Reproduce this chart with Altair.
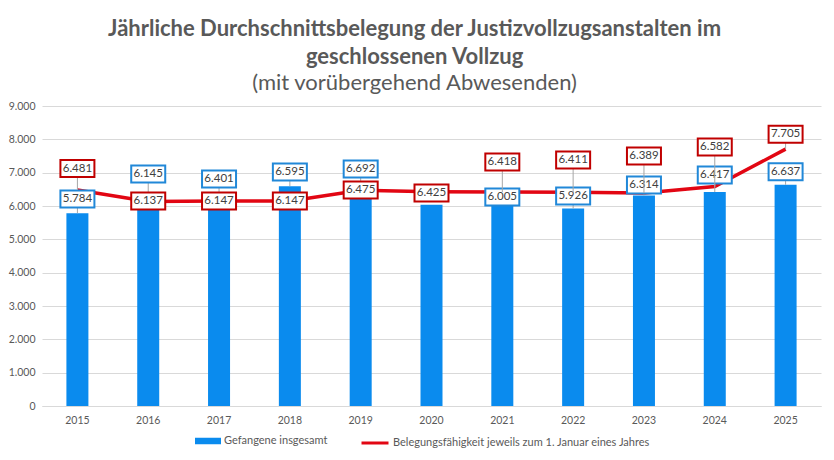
import altair as alt
import pandas as pd

# ---- data ----
years = ["2015", "2016", "2017", "2018", "2019", "2020", "2021", "2022", "2023", "2024", "2025"]
gefangene = [5784, 6145, 6401, 6595, 6692, 6040, 6005, 5926, 6314, 6417, 6637]
kapazitaet = [6481, 6137, 6147, 6147, 6475, 6425, 6418, 6411, 6389, 6582, 7705]
bar_label_shown = [True, True, True, True, True, False, True, True, True, True, True]

# label box placement (layout only, in axis units)
blue_label_at = [6210, 6960, 6810, 7020, 7110, 6040, 6270, 6300, 6630, 6930, 7030]
red_label_at = [7125, 6150, 6150, 6150, 6480, 6390, 7320, 7380, 7500, 7770, 8150]
y_ticks = [0, 1000, 2000, 3000, 4000, 5000, 6000, 7000, 8000, 9000]

S_BAR = "Gefangene insgesamt"
S_LINE = "Belegungsfähigkeit jeweils zum 1. Januar eines Jahres"

BLUE = "#0A8BEE"
RED = "#E20613"
BOX_BLUE = "#2188D8"
BOX_RED = "#C00000"
GRAY = "#595959"
FONT = "Lato"

df = pd.DataFrame({
    "year": years,
    "gef": gefangene,
    "kap": kapazitaet,
    "show": bar_label_shown,
    "blue_y": blue_label_at,
    "red_y": red_label_at,
})
df["s_bar"] = S_BAR
df["s_line"] = S_LINE

base = alt.Chart(df).transform_calculate(
    gef_txt="replace(format(datum.gef, ',.0f'), ',', '.')",
    kap_txt="replace(format(datum.kap, ',.0f'), ',', '.')",
)

x_axis = alt.Axis(labelAngle=0, ticks=False, domainColor="#d9d9d9", labelFont=FONT,
                  labelFontSize=10.5, labelColor=GRAY, labelPadding=9, title=None)
y_axis = alt.Axis(values=y_ticks, domain=False, ticks=False, title=None,
                  gridColor="#d9d9d9", labelFont=FONT, labelFontSize=10.5,
                  labelColor=GRAY, labelPadding=7, labelOverlap=False,
                  labelExpr="replace(format(datum.value, ',.0f'), ',', '.')")
x_scale = alt.Scale(paddingInner=0.0, paddingOuter=0.0)
y_scale = alt.Scale(domain=[0, 9000], nice=False)


def xo():
    return alt.X("year:N", sort=years, scale=x_scale, axis=x_axis, title=None)


def yo(field):
    return alt.Y(field, scale=y_scale, axis=y_axis, title=None)


bars = base.mark_bar(size=22).encode(
    x=xo(),
    y=yo("gef:Q"),
    fill=alt.Fill("s_bar:N", scale=alt.Scale(domain=[S_BAR], range=[BLUE]),
                  legend=alt.Legend(title=None, orient="none", legendX=153, legendY=322,
                                    symbolType="M-1,-0.25L1,-0.25L1,0.25L-1,0.25Z",
                                    symbolSize=676, symbolStrokeWidth=0,
                                    labelFont=FONT, labelFontSize=11, labelColor=GRAY,
                                    labelOffset=3, labelLimit=400)),
)

line = base.mark_line(strokeWidth=3.5).encode(
    x=xo(),
    y=yo("kap:Q"),
    stroke=alt.Stroke("s_line:N", scale=alt.Scale(domain=[S_LINE], range=[RED]),
                      legend=alt.Legend(title=None, orient="none", legendX=318, legendY=322,
                                        symbolType="stroke", symbolSize=729,
                                        symbolStrokeWidth=3,
                                        labelFont=FONT, labelFontSize=11, labelColor=GRAY,
                                        labelOffset=3, labelLimit=400)),
)

BOX = "M-1,-0.5L1,-0.5L1,0.5L-1,0.5Z"

blue_base = base.transform_filter("datum.show")
blue_rule = blue_base.mark_rule(color="#a6a6a6", strokeWidth=1).encode(
    x=xo(), y=yo("gef:Q"), y2="blue_y:Q")
blue_box = blue_base.mark_point(shape=BOX, size=1156, filled=True, fill="white",
                                stroke=BOX_BLUE, strokeWidth=2, opacity=1).encode(
    x=xo(), y=yo("blue_y:Q"))
blue_text = blue_base.mark_text(font=FONT, fontSize=11.5, color="#404040",
                                baseline="middle").encode(
    x=xo(), y=yo("blue_y:Q"), text="gef_txt:N")

red_rule = base.mark_rule(color="#a6a6a6", strokeWidth=1).encode(
    x=xo(), y=yo("kap:Q"), y2="red_y:Q")
red_box = base.mark_point(shape=BOX, size=1156, filled=True, fill="white",
                          stroke=BOX_RED, strokeWidth=2, opacity=1).encode(
    x=xo(), y=yo("red_y:Q"))
red_text = base.mark_text(font=FONT, fontSize=11.5, color="#404040",
                          baseline="middle").encode(
    x=xo(), y=yo("red_y:Q"), text="kap_txt:N")

chart = alt.layer(
    bars, line, blue_rule, blue_box, blue_text, red_rule, red_box, red_text
).properties(
    width=779,
    height=300,
    autosize=alt.AutoSizeParams(type="none"),
    padding={"left": 34, "top": 98, "right": 5, "bottom": 46},
    title=alt.TitleParams(
        text=["Jährliche Durchschnittsbelegung der Justizvollzugsanstalten im",
              "geschlossenen Vollzug"],
        subtitle="(mit vorübergehend Abwesenden)",
        font=FONT, fontSize=22, fontWeight="bold", color=GRAY, lineHeight=28,
        subtitleFont=FONT, subtitleFontSize=22, subtitleColor=GRAY,
        subtitleFontWeight="normal", subtitlePadding=4,
        anchor="middle", frame="bounds", offset=6,
    ),
).configure(
    background="white",
    view=alt.ViewConfig(stroke=None),
    axis=alt.AxisConfig(labelOverlap=False),
)

chart.save("out.html", embed_options={"renderer": "svg", "actions": False})
